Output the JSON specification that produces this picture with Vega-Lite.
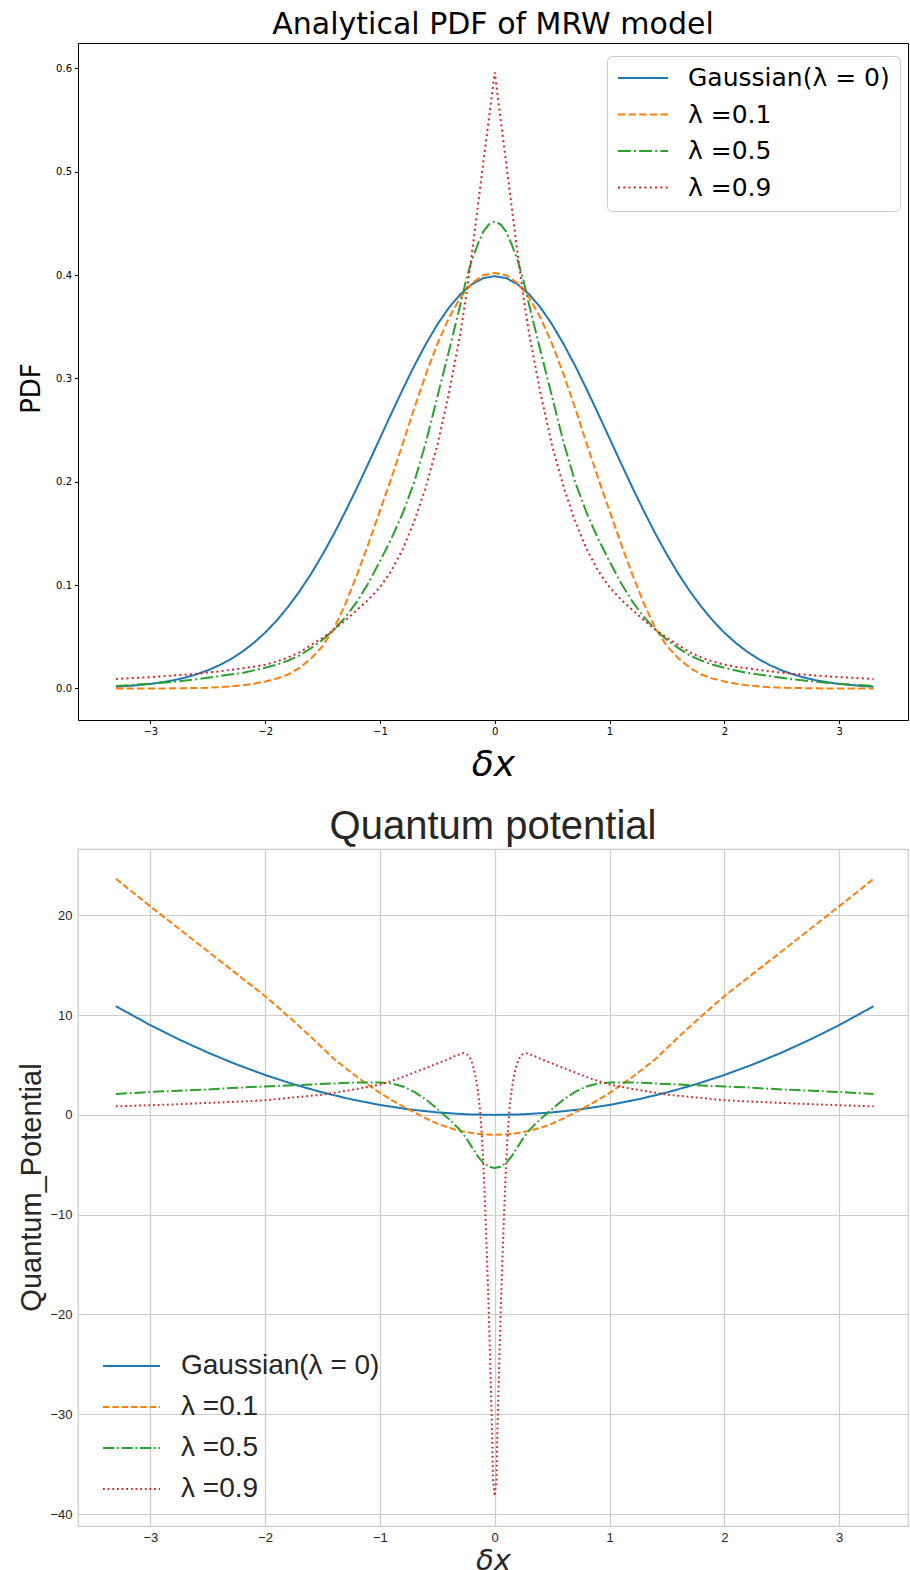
{
  "$schema": "https://vega.github.io/schema/vega-lite/v6.json",
  "background": "white",
  "padding": {"left": 16, "top": 9, "right": 1, "bottom": 0},
  "spacing": 129,
  "bounds": "flush",
  "resolve": {"legend": {"color": "independent", "strokeDash": "independent"}, "scale": {"color": "independent", "strokeDash": "independent"}},
  "datasets": {
    "pdf": [
      {"lam":"0","x":-3.3,"y":0.0017},{"lam":"0","x":-3.2,"y":0.0024},{"lam":"0","x":-3.1,"y":0.0033},{"lam":"0","x":-3.0,"y":0.0044},{"lam":"0","x":-2.9,"y":0.006},{"lam":"0","x":-2.8,"y":0.0079},{"lam":"0","x":-2.7,"y":0.0104},{"lam":"0","x":-2.6,"y":0.0136},{"lam":"0","x":-2.5,"y":0.0175},{"lam":"0","x":-2.4,"y":0.0224},{"lam":"0","x":-2.3,"y":0.0283},{"lam":"0","x":-2.2,"y":0.0355},{"lam":"0","x":-2.1,"y":0.044},{"lam":"0","x":-2.0,"y":0.054},{"lam":"0","x":-1.9,"y":0.0656},{"lam":"0","x":-1.8,"y":0.079},{"lam":"0","x":-1.7,"y":0.094},{"lam":"0","x":-1.6,"y":0.1109},{"lam":"0","x":-1.5,"y":0.1295},{"lam":"0","x":-1.4,"y":0.1497},{"lam":"0","x":-1.3,"y":0.1714},{"lam":"0","x":-1.2,"y":0.1942},{"lam":"0","x":-1.1,"y":0.2179},{"lam":"0","x":-1.0,"y":0.242},{"lam":"0","x":-0.9,"y":0.2661},{"lam":"0","x":-0.8,"y":0.2897},{"lam":"0","x":-0.7,"y":0.3123},{"lam":"0","x":-0.6,"y":0.3332},{"lam":"0","x":-0.5,"y":0.3521},{"lam":"0","x":-0.4,"y":0.3683},{"lam":"0","x":-0.3,"y":0.3814},{"lam":"0","x":-0.2,"y":0.391},{"lam":"0","x":-0.1,"y":0.397},{"lam":"0","x":0,"y":0.3989},
      {"lam":"0","x":0.1,"y":0.397},{"lam":"0","x":0.2,"y":0.391},{"lam":"0","x":0.3,"y":0.3814},{"lam":"0","x":0.4,"y":0.3683},{"lam":"0","x":0.5,"y":0.3521},{"lam":"0","x":0.6,"y":0.3332},{"lam":"0","x":0.7,"y":0.3123},{"lam":"0","x":0.8,"y":0.2897},{"lam":"0","x":0.9,"y":0.2661},{"lam":"0","x":1.0,"y":0.242},{"lam":"0","x":1.1,"y":0.2179},{"lam":"0","x":1.2,"y":0.1942},{"lam":"0","x":1.3,"y":0.1714},{"lam":"0","x":1.4,"y":0.1497},{"lam":"0","x":1.5,"y":0.1295},{"lam":"0","x":1.6,"y":0.1109},{"lam":"0","x":1.7,"y":0.094},{"lam":"0","x":1.8,"y":0.079},{"lam":"0","x":1.9,"y":0.0656},{"lam":"0","x":2.0,"y":0.054},{"lam":"0","x":2.1,"y":0.044},{"lam":"0","x":2.2,"y":0.0355},{"lam":"0","x":2.3,"y":0.0283},{"lam":"0","x":2.4,"y":0.0224},{"lam":"0","x":2.5,"y":0.0175},{"lam":"0","x":2.6,"y":0.0136},{"lam":"0","x":2.7,"y":0.0104},{"lam":"0","x":2.8,"y":0.0079},{"lam":"0","x":2.9,"y":0.006},{"lam":"0","x":3.0,"y":0.0044},{"lam":"0","x":3.1,"y":0.0033},{"lam":"0","x":3.2,"y":0.0024},{"lam":"0","x":3.3,"y":0.0017},

      {"lam":"0.1","x":-3.3,"y":0.0},{"lam":"0.1","x":-3.0,"y":0.0},{"lam":"0.1","x":-2.8,"y":0.0001},{"lam":"0.1","x":-2.5,"y":0.0007},{"lam":"0.1","x":-2.4,"y":0.0012},{"lam":"0.1","x":-2.3,"y":0.002},{"lam":"0.1","x":-2.2,"y":0.003},{"lam":"0.1","x":-2.1,"y":0.0046},{"lam":"0.1","x":-2.0,"y":0.0068},{"lam":"0.1","x":-1.9,"y":0.0095},{"lam":"0.1","x":-1.8,"y":0.0135},{"lam":"0.1","x":-1.7,"y":0.02},{"lam":"0.1","x":-1.6,"y":0.029},{"lam":"0.1","x":-1.5,"y":0.041},{"lam":"0.1","x":-1.4,"y":0.058},{"lam":"0.1","x":-1.3,"y":0.082},{"lam":"0.1","x":-1.2,"y":0.11},{"lam":"0.1","x":-1.1,"y":0.14},{"lam":"0.1","x":-1.0,"y":0.172},{"lam":"0.1","x":-0.9,"y":0.2035},{"lam":"0.1","x":-0.8,"y":0.2372},{"lam":"0.1","x":-0.7,"y":0.2714},{"lam":"0.1","x":-0.6,"y":0.3039},{"lam":"0.1","x":-0.5,"y":0.3332},{"lam":"0.1","x":-0.4,"y":0.3584},{"lam":"0.1","x":-0.3,"y":0.3782},{"lam":"0.1","x":-0.2,"y":0.3921},{"lam":"0.1","x":-0.1,"y":0.3998},{"lam":"0.1","x":0,"y":0.402},
      {"lam":"0.1","x":0.1,"y":0.3998},{"lam":"0.1","x":0.2,"y":0.3921},{"lam":"0.1","x":0.3,"y":0.3782},{"lam":"0.1","x":0.4,"y":0.3584},{"lam":"0.1","x":0.5,"y":0.3332},{"lam":"0.1","x":0.6,"y":0.3039},{"lam":"0.1","x":0.7,"y":0.2714},{"lam":"0.1","x":0.8,"y":0.2372},{"lam":"0.1","x":0.9,"y":0.2035},{"lam":"0.1","x":1.0,"y":0.172},{"lam":"0.1","x":1.1,"y":0.14},{"lam":"0.1","x":1.2,"y":0.11},{"lam":"0.1","x":1.3,"y":0.082},{"lam":"0.1","x":1.4,"y":0.058},{"lam":"0.1","x":1.5,"y":0.041},{"lam":"0.1","x":1.6,"y":0.029},{"lam":"0.1","x":1.7,"y":0.02},{"lam":"0.1","x":1.8,"y":0.0135},{"lam":"0.1","x":1.9,"y":0.0095},{"lam":"0.1","x":2.0,"y":0.0068},{"lam":"0.1","x":2.1,"y":0.0046},{"lam":"0.1","x":2.2,"y":0.003},{"lam":"0.1","x":2.3,"y":0.002},{"lam":"0.1","x":2.4,"y":0.0012},{"lam":"0.1","x":2.5,"y":0.0007},{"lam":"0.1","x":2.8,"y":0.0001},{"lam":"0.1","x":3.0,"y":0.0},{"lam":"0.1","x":3.3,"y":0.0},

      {"lam":"0.5","x":-3.3,"y":0.0025},{"lam":"0.5","x":-3.0,"y":0.0045},{"lam":"0.5","x":-2.8,"y":0.0065},{"lam":"0.5","x":-2.6,"y":0.0088},{"lam":"0.5","x":-2.4,"y":0.012},{"lam":"0.5","x":-2.2,"y":0.015},{"lam":"0.5","x":-2.0,"y":0.02},{"lam":"0.5","x":-1.9,"y":0.023},{"lam":"0.5","x":-1.8,"y":0.027},{"lam":"0.5","x":-1.7,"y":0.032},{"lam":"0.5","x":-1.6,"y":0.039},{"lam":"0.5","x":-1.5,"y":0.047},{"lam":"0.5","x":-1.4,"y":0.057},{"lam":"0.5","x":-1.3,"y":0.069},{"lam":"0.5","x":-1.2,"y":0.084},{"lam":"0.5","x":-1.1,"y":0.102},{"lam":"0.5","x":-1.0,"y":0.123},{"lam":"0.5","x":-0.9,"y":0.145},{"lam":"0.5","x":-0.8,"y":0.17},{"lam":"0.5","x":-0.7,"y":0.2},{"lam":"0.5","x":-0.6,"y":0.238},{"lam":"0.5","x":-0.5,"y":0.282},{"lam":"0.5","x":-0.4,"y":0.326},{"lam":"0.5","x":-0.3,"y":0.371},{"lam":"0.5","x":-0.25,"y":0.395},{"lam":"0.5","x":-0.2,"y":0.414},{"lam":"0.5","x":-0.15,"y":0.429},{"lam":"0.5","x":-0.1,"y":0.442},{"lam":"0.5","x":-0.05,"y":0.449},{"lam":"0.5","x":0,"y":0.452},
      {"lam":"0.5","x":0.05,"y":0.449},{"lam":"0.5","x":0.1,"y":0.442},{"lam":"0.5","x":0.15,"y":0.429},{"lam":"0.5","x":0.2,"y":0.414},{"lam":"0.5","x":0.25,"y":0.395},{"lam":"0.5","x":0.3,"y":0.371},{"lam":"0.5","x":0.4,"y":0.326},{"lam":"0.5","x":0.5,"y":0.282},{"lam":"0.5","x":0.6,"y":0.238},{"lam":"0.5","x":0.7,"y":0.2},{"lam":"0.5","x":0.8,"y":0.17},{"lam":"0.5","x":0.9,"y":0.145},{"lam":"0.5","x":1.0,"y":0.123},{"lam":"0.5","x":1.1,"y":0.102},{"lam":"0.5","x":1.2,"y":0.084},{"lam":"0.5","x":1.3,"y":0.069},{"lam":"0.5","x":1.4,"y":0.057},{"lam":"0.5","x":1.5,"y":0.047},{"lam":"0.5","x":1.6,"y":0.039},{"lam":"0.5","x":1.7,"y":0.032},{"lam":"0.5","x":1.8,"y":0.027},{"lam":"0.5","x":1.9,"y":0.023},{"lam":"0.5","x":2.0,"y":0.02},{"lam":"0.5","x":2.2,"y":0.015},{"lam":"0.5","x":2.4,"y":0.012},{"lam":"0.5","x":2.6,"y":0.0088},{"lam":"0.5","x":2.8,"y":0.0065},{"lam":"0.5","x":3.0,"y":0.0045},{"lam":"0.5","x":3.3,"y":0.0025},

      {"lam":"0.9","x":-3.3,"y":0.0092},{"lam":"0.9","x":-3.0,"y":0.011},{"lam":"0.9","x":-2.8,"y":0.0125},{"lam":"0.9","x":-2.6,"y":0.0142},{"lam":"0.9","x":-2.4,"y":0.0165},{"lam":"0.9","x":-2.3,"y":0.018},{"lam":"0.9","x":-2.2,"y":0.0195},{"lam":"0.9","x":-2.1,"y":0.021},{"lam":"0.9","x":-2.0,"y":0.023},{"lam":"0.9","x":-1.9,"y":0.026},{"lam":"0.9","x":-1.8,"y":0.03},{"lam":"0.9","x":-1.7,"y":0.035},{"lam":"0.9","x":-1.6,"y":0.042},{"lam":"0.9","x":-1.5,"y":0.049},{"lam":"0.9","x":-1.4,"y":0.057},{"lam":"0.9","x":-1.3,"y":0.066},{"lam":"0.9","x":-1.2,"y":0.076},{"lam":"0.9","x":-1.1,"y":0.086},{"lam":"0.9","x":-1.0,"y":0.098},{"lam":"0.9","x":-0.9,"y":0.114},{"lam":"0.9","x":-0.8,"y":0.135},{"lam":"0.9","x":-0.7,"y":0.162},{"lam":"0.9","x":-0.6,"y":0.195},{"lam":"0.9","x":-0.5,"y":0.235},{"lam":"0.9","x":-0.4,"y":0.285},{"lam":"0.9","x":-0.3,"y":0.343},{"lam":"0.9","x":-0.25,"y":0.379},{"lam":"0.9","x":-0.2,"y":0.42},{"lam":"0.9","x":-0.15,"y":0.464},{"lam":"0.9","x":-0.1,"y":0.508},{"lam":"0.9","x":-0.05,"y":0.552},{"lam":"0.9","x":0,"y":0.596},
      {"lam":"0.9","x":0.05,"y":0.552},{"lam":"0.9","x":0.1,"y":0.508},{"lam":"0.9","x":0.15,"y":0.464},{"lam":"0.9","x":0.2,"y":0.42},{"lam":"0.9","x":0.25,"y":0.379},{"lam":"0.9","x":0.3,"y":0.343},{"lam":"0.9","x":0.4,"y":0.285},{"lam":"0.9","x":0.5,"y":0.235},{"lam":"0.9","x":0.6,"y":0.195},{"lam":"0.9","x":0.7,"y":0.162},{"lam":"0.9","x":0.8,"y":0.135},{"lam":"0.9","x":0.9,"y":0.114},{"lam":"0.9","x":1.0,"y":0.098},{"lam":"0.9","x":1.1,"y":0.086},{"lam":"0.9","x":1.2,"y":0.076},{"lam":"0.9","x":1.3,"y":0.066},{"lam":"0.9","x":1.4,"y":0.057},{"lam":"0.9","x":1.5,"y":0.049},{"lam":"0.9","x":1.6,"y":0.042},{"lam":"0.9","x":1.7,"y":0.035},{"lam":"0.9","x":1.8,"y":0.03},{"lam":"0.9","x":1.9,"y":0.026},{"lam":"0.9","x":2.0,"y":0.023},{"lam":"0.9","x":2.1,"y":0.021},{"lam":"0.9","x":2.2,"y":0.0195},{"lam":"0.9","x":2.3,"y":0.018},{"lam":"0.9","x":2.4,"y":0.0165},{"lam":"0.9","x":2.6,"y":0.0142},{"lam":"0.9","x":2.8,"y":0.0125},{"lam":"0.9","x":3.0,"y":0.011},{"lam":"0.9","x":3.3,"y":0.0092}
    ],
    "qp": [
      {"lam":"0","x":-3.3,"y":10.89},{"lam":"0","x":-3.0,"y":9.0},{"lam":"0","x":-2.75,"y":7.5625},{"lam":"0","x":-2.5,"y":6.25},{"lam":"0","x":-2.25,"y":5.0625},{"lam":"0","x":-2.0,"y":4.0},{"lam":"0","x":-1.75,"y":3.0625},{"lam":"0","x":-1.5,"y":2.25},{"lam":"0","x":-1.25,"y":1.5625},{"lam":"0","x":-1.0,"y":1.0},{"lam":"0","x":-0.75,"y":0.5625},{"lam":"0","x":-0.5,"y":0.25},{"lam":"0","x":-0.25,"y":0.0625},{"lam":"0","x":0,"y":0},
      {"lam":"0","x":0.25,"y":0.0625},{"lam":"0","x":0.5,"y":0.25},{"lam":"0","x":0.75,"y":0.5625},{"lam":"0","x":1.0,"y":1.0},{"lam":"0","x":1.25,"y":1.5625},{"lam":"0","x":1.5,"y":2.25},{"lam":"0","x":1.75,"y":3.0625},{"lam":"0","x":2.0,"y":4.0},{"lam":"0","x":2.25,"y":5.0625},{"lam":"0","x":2.5,"y":6.25},{"lam":"0","x":2.75,"y":7.5625},{"lam":"0","x":3.0,"y":9.0},{"lam":"0","x":3.3,"y":10.89},

      {"lam":"0.1","x":-3.3,"y":23.66},{"lam":"0.1","x":-3.0,"y":20.9},{"lam":"0.1","x":-2.8,"y":19.1},{"lam":"0.1","x":-2.5,"y":16.4},{"lam":"0.1","x":-2.2,"y":13.7},{"lam":"0.1","x":-2.0,"y":11.9},{"lam":"0.1","x":-1.8,"y":9.9},{"lam":"0.1","x":-1.6,"y":7.8},{"lam":"0.1","x":-1.4,"y":5.6},{"lam":"0.1","x":-1.2,"y":3.8},{"lam":"0.1","x":-1.0,"y":2.2},{"lam":"0.1","x":-0.9,"y":1.5},{"lam":"0.1","x":-0.8,"y":0.85},{"lam":"0.1","x":-0.7,"y":0.25},{"lam":"0.1","x":-0.6,"y":-0.35},{"lam":"0.1","x":-0.5,"y":-0.88},{"lam":"0.1","x":-0.4,"y":-1.28},{"lam":"0.1","x":-0.3,"y":-1.6},{"lam":"0.1","x":-0.2,"y":-1.82},{"lam":"0.1","x":-0.1,"y":-1.95},{"lam":"0.1","x":0,"y":-2.0},
      {"lam":"0.1","x":0.1,"y":-1.95},{"lam":"0.1","x":0.2,"y":-1.82},{"lam":"0.1","x":0.3,"y":-1.6},{"lam":"0.1","x":0.4,"y":-1.28},{"lam":"0.1","x":0.5,"y":-0.88},{"lam":"0.1","x":0.6,"y":-0.35},{"lam":"0.1","x":0.7,"y":0.25},{"lam":"0.1","x":0.8,"y":0.85},{"lam":"0.1","x":0.9,"y":1.5},{"lam":"0.1","x":1.0,"y":2.2},{"lam":"0.1","x":1.2,"y":3.8},{"lam":"0.1","x":1.4,"y":5.6},{"lam":"0.1","x":1.6,"y":7.8},{"lam":"0.1","x":1.8,"y":9.9},{"lam":"0.1","x":2.0,"y":11.9},{"lam":"0.1","x":2.2,"y":13.7},{"lam":"0.1","x":2.5,"y":16.4},{"lam":"0.1","x":2.8,"y":19.1},{"lam":"0.1","x":3.0,"y":20.9},{"lam":"0.1","x":3.3,"y":23.66},

      {"lam":"0.5","x":-3.3,"y":2.1},{"lam":"0.5","x":-3.0,"y":2.3},{"lam":"0.5","x":-2.8,"y":2.4},{"lam":"0.5","x":-2.5,"y":2.55},{"lam":"0.5","x":-2.2,"y":2.75},{"lam":"0.5","x":-2.0,"y":2.85},{"lam":"0.5","x":-1.8,"y":2.95},{"lam":"0.5","x":-1.6,"y":3.05},{"lam":"0.5","x":-1.4,"y":3.15},{"lam":"0.5","x":-1.2,"y":3.25},{"lam":"0.5","x":-1.0,"y":3.25},{"lam":"0.5","x":-0.9,"y":3.15},{"lam":"0.5","x":-0.8,"y":2.85},{"lam":"0.5","x":-0.7,"y":2.3},{"lam":"0.5","x":-0.6,"y":1.55},{"lam":"0.5","x":-0.5,"y":0.6},{"lam":"0.5","x":-0.45,"y":0.1},{"lam":"0.5","x":-0.4,"y":-0.4},{"lam":"0.5","x":-0.35,"y":-0.95},{"lam":"0.5","x":-0.3,"y":-1.55},{"lam":"0.5","x":-0.25,"y":-2.3},{"lam":"0.5","x":-0.2,"y":-3.2},{"lam":"0.5","x":-0.15,"y":-4.1},{"lam":"0.5","x":-0.1,"y":-4.8},{"lam":"0.5","x":-0.05,"y":-5.2},{"lam":"0.5","x":0,"y":-5.33},
      {"lam":"0.5","x":0.05,"y":-5.2},{"lam":"0.5","x":0.1,"y":-4.8},{"lam":"0.5","x":0.15,"y":-4.1},{"lam":"0.5","x":0.2,"y":-3.2},{"lam":"0.5","x":0.25,"y":-2.3},{"lam":"0.5","x":0.3,"y":-1.55},{"lam":"0.5","x":0.35,"y":-0.95},{"lam":"0.5","x":0.4,"y":-0.4},{"lam":"0.5","x":0.45,"y":0.1},{"lam":"0.5","x":0.5,"y":0.6},{"lam":"0.5","x":0.6,"y":1.55},{"lam":"0.5","x":0.7,"y":2.3},{"lam":"0.5","x":0.8,"y":2.85},{"lam":"0.5","x":0.9,"y":3.15},{"lam":"0.5","x":1.0,"y":3.25},{"lam":"0.5","x":1.2,"y":3.25},{"lam":"0.5","x":1.4,"y":3.15},{"lam":"0.5","x":1.6,"y":3.05},{"lam":"0.5","x":1.8,"y":2.95},{"lam":"0.5","x":2.0,"y":2.85},{"lam":"0.5","x":2.2,"y":2.75},{"lam":"0.5","x":2.5,"y":2.55},{"lam":"0.5","x":2.8,"y":2.4},{"lam":"0.5","x":3.0,"y":2.3},{"lam":"0.5","x":3.3,"y":2.1},

      {"lam":"0.9","x":-3.3,"y":0.86},{"lam":"0.9","x":-3.0,"y":0.97},{"lam":"0.9","x":-2.8,"y":1.05},{"lam":"0.9","x":-2.5,"y":1.2},{"lam":"0.9","x":-2.2,"y":1.35},{"lam":"0.9","x":-2.0,"y":1.47},{"lam":"0.9","x":-1.8,"y":1.7},{"lam":"0.9","x":-1.5,"y":2.03},{"lam":"0.9","x":-1.2,"y":2.6},{"lam":"0.9","x":-1.0,"y":3.04},{"lam":"0.9","x":-0.9,"y":3.4},{"lam":"0.9","x":-0.8,"y":3.8},{"lam":"0.9","x":-0.7,"y":4.25},{"lam":"0.9","x":-0.6,"y":4.7},{"lam":"0.9","x":-0.5,"y":5.15},{"lam":"0.9","x":-0.4,"y":5.6},{"lam":"0.9","x":-0.35,"y":5.88},{"lam":"0.9","x":-0.3,"y":6.1},{"lam":"0.9","x":-0.27,"y":6.2},{"lam":"0.9","x":-0.24,"y":6.05},{"lam":"0.9","x":-0.21,"y":5.6},{"lam":"0.9","x":-0.19,"y":5.0},{"lam":"0.9","x":-0.17,"y":4.0},{"lam":"0.9","x":-0.15,"y":2.7},{"lam":"0.9","x":-0.13,"y":0.8},{"lam":"0.9","x":-0.115,"y":-1.5},{"lam":"0.9","x":-0.1,"y":-4.6},{"lam":"0.9","x":-0.085,"y":-8.8},{"lam":"0.9","x":-0.07,"y":-13.5},{"lam":"0.9","x":-0.055,"y":-18.5},{"lam":"0.9","x":-0.04,"y":-24.5},{"lam":"0.9","x":-0.025,"y":-31.0},{"lam":"0.9","x":-0.015,"y":-36.6},{"lam":"0.9","x":0,"y":-38.2},
      {"lam":"0.9","x":0.015,"y":-36.6},{"lam":"0.9","x":0.025,"y":-31.0},{"lam":"0.9","x":0.04,"y":-24.5},{"lam":"0.9","x":0.055,"y":-18.5},{"lam":"0.9","x":0.07,"y":-13.5},{"lam":"0.9","x":0.085,"y":-8.8},{"lam":"0.9","x":0.1,"y":-4.6},{"lam":"0.9","x":0.115,"y":-1.5},{"lam":"0.9","x":0.13,"y":0.8},{"lam":"0.9","x":0.15,"y":2.7},{"lam":"0.9","x":0.17,"y":4.0},{"lam":"0.9","x":0.19,"y":5.0},{"lam":"0.9","x":0.21,"y":5.6},{"lam":"0.9","x":0.24,"y":6.05},{"lam":"0.9","x":0.27,"y":6.2},{"lam":"0.9","x":0.3,"y":6.1},{"lam":"0.9","x":0.35,"y":5.88},{"lam":"0.9","x":0.4,"y":5.6},{"lam":"0.9","x":0.5,"y":5.15},{"lam":"0.9","x":0.6,"y":4.7},{"lam":"0.9","x":0.7,"y":4.25},{"lam":"0.9","x":0.8,"y":3.8},{"lam":"0.9","x":0.9,"y":3.4},{"lam":"0.9","x":1.0,"y":3.04},{"lam":"0.9","x":1.2,"y":2.6},{"lam":"0.9","x":1.5,"y":2.03},{"lam":"0.9","x":1.8,"y":1.7},{"lam":"0.9","x":2.0,"y":1.47},{"lam":"0.9","x":2.2,"y":1.35},{"lam":"0.9","x":2.5,"y":1.2},{"lam":"0.9","x":2.8,"y":1.05},{"lam":"0.9","x":3.0,"y":0.97},{"lam":"0.9","x":3.3,"y":0.86}
    ]
  },
  "vconcat": [
    {
      "data": {"name": "pdf"},
      "width": 830,
      "height": 677,
      "title": {"text": "Analytical PDF of MRW model", "font": "DejaVu Sans", "fontSize": 30, "fontWeight": "normal", "color": "black", "baseline": "alphabetic", "offset": -21, "anchor": "middle"},
      "view": {"stroke": "black", "strokeWidth": 1},
      "mark": {"type": "line", "strokeWidth": 2},
      "encoding": {
        "x": {"field": "x", "type": "quantitative",
          "scale": {"domain": [-3.63, 3.6], "nice": false, "zero": false},
          "axis": {"values": [-3, -2, -1, 0, 1, 2, 3], "grid": false, "domain": false, "ticks": true, "tickSize": 3.5, "tickColor": "black", "tickWidth": 1,
            "labelFont": "DejaVu Sans", "labelFontSize": 10, "labelColor": "black", "labelPadding": 3,
            "title": "δx", "titleFont": "DejaVu Sans", "titleFontStyle": "italic", "titleFontSize": 36, "titleFontWeight": "normal", "titleColor": "black",
            "titleBaseline": "alphabetic", "titleX": 415, "titleY": 55}},
        "y": {"field": "y", "type": "quantitative",
          "scale": {"domain": [-0.0305, 0.6245], "nice": false, "zero": false},
          "axis": {"values": [0, 0.1, 0.2, 0.3, 0.4, 0.5, 0.6], "format": ".1f", "grid": false, "domain": false, "tickSize": 3.5, "tickColor": "black", "tickWidth": 1,
            "labelFont": "DejaVu Sans", "labelFontSize": 10, "labelColor": "black", "labelPadding": 3,
            "title": "PDF", "titleFont": "DejaVu Sans", "titleFontSize": 26, "titleFontWeight": "normal", "titleColor": "black",
            "titleBaseline": "alphabetic", "titleAngle": 270, "titleX": -39, "titleY": 345}},
        "color": {"field": "lam", "type": "nominal",
          "scale": {"domain": ["0", "0.1", "0.5", "0.9"], "range": ["#1f77b4", "#ff7f0e", "#2ca02c", "#d62728"]},
          "legend": {"title": null, "orient": "none", "legendX": 529, "legendY": 13, "symbolType": "stroke", "symbolSize": 2500, "symbolStrokeWidth": 2,
            "labelFont": "DejaVu Sans", "labelFontSize": 25, "labelColor": "black", "labelOffset": 19, "labelLimit": 400,
            "padding": 10, "clipHeight": 24, "rowPadding": 11.5, "strokeColor": "#cccccc", "fillColor": "rgba(255,255,255,0.8)", "cornerRadius": 5,
            "labelExpr": "datum.value == '0' ? 'Gaussian(λ = 0)' : 'λ =' + datum.value"}},
        "strokeDash": {"field": "lam", "type": "nominal",
          "scale": {"domain": ["0", "0.1", "0.5", "0.9"], "range": [[1, 0], [7.4, 3.2], [12.8, 3.2, 2, 3.2], [2, 3.3]]},
          "legend": {"title": null, "orient": "none", "legendX": 529, "legendY": 13, "symbolType": "stroke", "symbolSize": 2500, "symbolStrokeWidth": 2,
            "labelFont": "DejaVu Sans", "labelFontSize": 25, "labelColor": "black", "labelOffset": 19, "labelLimit": 400,
            "padding": 10, "clipHeight": 24, "rowPadding": 11.5, "strokeColor": "#cccccc", "fillColor": "rgba(255,255,255,0.8)", "cornerRadius": 5,
            "labelExpr": "datum.value == '0' ? 'Gaussian(λ = 0)' : 'λ =' + datum.value"}}
      }
    },
    {
      "data": {"name": "qp"},
      "width": 830,
      "height": 677,
      "title": {"text": "Quantum potential", "font": "Liberation Sans", "fontSize": 40, "fontWeight": "normal", "color": "#262626", "baseline": "alphabetic", "offset": -30, "anchor": "middle"},
      "view": {"stroke": "#cccccc", "strokeWidth": 1.25},
      "mark": {"type": "line", "strokeWidth": 2},
      "encoding": {
        "x": {"field": "x", "type": "quantitative",
          "scale": {"domain": [-3.63, 3.6], "nice": false, "zero": false},
          "axis": {"values": [-3, -2, -1, 0, 1, 2, 3], "grid": true, "gridColor": "#cccccc", "gridWidth": 1.2, "domain": false, "ticks": false,
            "labelFont": "Liberation Sans", "labelFontSize": 13, "labelColor": "#262626", "labelPadding": 5,
            "title": "δx", "titleFont": "DejaVu Sans", "titleFontStyle": "italic", "titleFontSize": 29, "titleFontWeight": "normal", "titleColor": "#262626",
            "titleBaseline": "alphabetic", "titleX": 415, "titleY": 43}},
        "y": {"field": "y", "type": "quantitative",
          "scale": {"domain": [-41.2, 26.65], "nice": false, "zero": false},
          "axis": {"values": [-40, -30, -20, -10, 0, 10, 20], "grid": true, "gridColor": "#cccccc", "gridWidth": 1.2, "domain": false, "ticks": false,
            "labelFont": "Liberation Sans", "labelFontSize": 13, "labelColor": "#262626", "labelPadding": 6,
            "title": "Quantum_Potential", "titleFont": "Liberation Sans", "titleFontSize": 29, "titleFontWeight": "normal", "titleColor": "#262626",
            "titleBaseline": "alphabetic", "titleAngle": 270, "titleX": -38, "titleY": 338}},
        "color": {"field": "lam", "type": "nominal",
          "scale": {"domain": ["0", "0.1", "0.5", "0.9"], "range": ["#1f77b4", "#ff7f0e", "#2ca02c", "#d62728"]},
          "legend": {"title": null, "orient": "none", "legendX": 24, "legendY": 503, "symbolType": "stroke", "symbolSize": 3249, "symbolStrokeWidth": 2,
            "labelFont": "Liberation Sans", "labelFontSize": 28, "labelColor": "#262626", "labelOffset": 20, "labelLimit": 400,
            "padding": 0, "clipHeight": 28, "rowPadding": 13,
            "labelExpr": "datum.value == '0' ? 'Gaussian(λ = 0)' : 'λ =' + datum.value"}},
        "strokeDash": {"field": "lam", "type": "nominal",
          "scale": {"domain": ["0", "0.1", "0.5", "0.9"], "range": [[1, 0], [6.5, 2.8], [11.2, 2.8, 1.75, 2.8], [1.75, 2.9]]},
          "legend": {"title": null, "orient": "none", "legendX": 24, "legendY": 503, "symbolType": "stroke", "symbolSize": 3249, "symbolStrokeWidth": 2,
            "labelFont": "Liberation Sans", "labelFontSize": 28, "labelColor": "#262626", "labelOffset": 20, "labelLimit": 400,
            "padding": 0, "clipHeight": 28, "rowPadding": 13,
            "labelExpr": "datum.value == '0' ? 'Gaussian(λ = 0)' : 'λ =' + datum.value"}}
      }
    }
  ]
}
